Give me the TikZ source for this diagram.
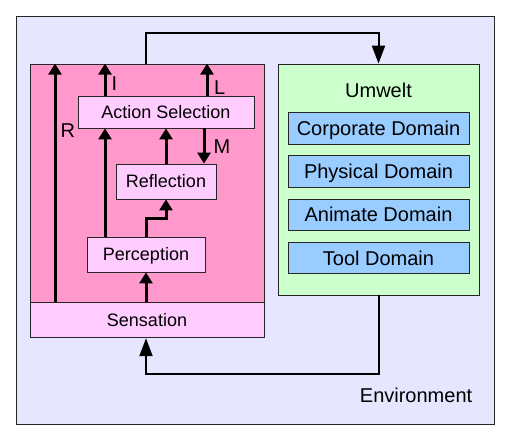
\documentclass[tikz,border=0pt]{standalone}
\usepackage{fontspec}
\setmainfont{Liberation Sans}
\usetikzlibrary{arrows.meta,positioning}
\definecolor{envbg}{RGB}{230,230,255}
\definecolor{agentbg}{RGB}{255,153,204}
\definecolor{boxbg}{RGB}{255,204,255}
\definecolor{umwbg}{RGB}{204,255,204}
\definecolor{dombg}{RGB}{153,204,255}

\begin{document}
\begin{tikzpicture}[x=1pt, y=-1pt,
  txt/.style={font=\fontsize{18}{21}\selectfont, inner sep=0pt},
  bigtxt/.style={font=\fontsize{20}{23}\selectfont, inner sep=0pt},
  box/.style={txt, draw=black!85, line width=0.8pt,
    text height=12.9pt, text depth=0pt},
  dom/.style={box, bigtxt, fill=dombg, minimum width=181pt,
    minimum height=31.5pt, text height=14.3pt},
  arr/.style={line width=3pt, -{Triangle[length=11pt,width=13pt]}},
  loopline/.style={line width=2pt, -{Triangle[length=18pt,width=13pt]}}]
\useasboundingbox (0,0) rectangle (510,445);
\node[box, fill=envbg, minimum width=478pt, minimum height=408pt] (env)
  at (255,220) {};
\node[bigtxt, above left=22pt and 22pt of env.south east] (envlabel)
  {Environment};
% the agent
\node[box, fill=agentbg, minimum width=234pt, minimum height=238pt] (agent)
  at (147,183) {};
\node[box, fill=boxbg, minimum width=234pt, minimum height=35pt,
  below=0pt of agent] (sens) {Sensation};
\node[box, fill=boxbg, minimum width=176pt, minimum height=32pt] (action)
  at (166,112) {Action Selection};
\node[box, fill=boxbg, minimum width=100pt, minimum height=35pt] (refl)
  at (166,181.5) {Reflection};
\node[box, fill=boxbg, minimum width=118pt, minimum height=35pt] (perc)
  at (146,254.5) {Perception};
% the umwelt
\node[box, fill=umwbg, minimum width=201pt, minimum height=231pt] (umw)
  at (378.5,179.5) {};
\node[bigtxt, below=19.4pt of umw.north] (umwlabel) {Umwelt};
\node[dom, below=14pt of umwlabel] (corp) {Corporate Domain};
\node[dom, below=11pt of corp] (phys) {Physical Domain};
\node[dom, below=11pt of phys] (anim) {Animate Domain};
\node[dom, below=11pt of anim] (tool) {Tool Domain};
% columns of the arrows
\coordinate (colR) at (55,0);
\coordinate (colI) at (105,0);
\coordinate (colM) at (204,0);
\coordinate (colL) at (207,0);
\draw[arr] (sens.north -| colR) -- (agent.north -| colR)
  node[bigtxt, pos=0.72, right=4pt]{R};
\draw[arr] (action.north -| colI) -- (agent.north -| colI)
  node[bigtxt, pos=0.36, right=5pt]{I};
\draw[arr] (action.north -| colL) -- (agent.north -| colL)
  node[bigtxt, pos=0.25, right=5.5pt]{L};
\draw[arr] (action.south -| colM) -- (refl.north -| colM)
  node[bigtxt, pos=0.53, right=8pt]{M};
\draw[arr] (perc.north -| colI) -- (action.south -| colI);
\draw[arr] (refl.north) -- (action.south);
\draw[arr] (perc.north) -- ++(0,-18) -| (refl.south);
\draw[arr] (sens.north -| perc.south) -- (perc.south);
% loop through the environment
\draw[loopline] (agent.north -| perc.north) -- ++(0,-31) -| (umw.north);
\draw[loopline] (umw.south) -- ++(0,79) -| (sens.south -| perc.south);
\end{tikzpicture}
\end{document}
